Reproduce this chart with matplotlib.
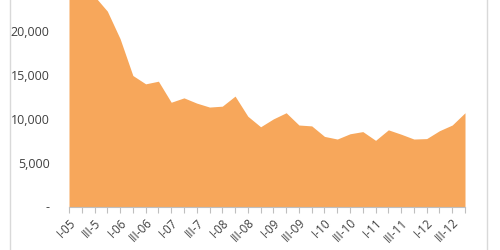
import numpy as np
import matplotlib
matplotlib.use("Agg")
import matplotlib.pyplot as plt
from matplotlib.lines import Line2D
from matplotlib.transforms import ScaledTranslation

# quarterly values, Q1 2005 .. Q4 2012
values = [24500, 25000, 24000, 22300, 19150, 14950, 14000, 14300,
          11900, 12400, 11800, 11350, 11450, 12600, 10300, 9100,
          10000, 10700, 9300, 9200, 8000, 7700, 8300, 8550,
          7550, 8750, 8250, 7700, 7750, 8650, 9300, 10700]
tick_labels = ["I-05", "III-5", "I-06", "III-06", "I-07", "III-7", "I-08", "III-08",
               "I-09", "III-09", "I-10", "III-10", "I-11", "III-11", "I-12", "III-12"]
y_ticks = [0, 5000, 10000, 15000, 20000]
y_tick_labels = ["-", "5,000", "10,000", "15,000", "20,000"]

plt.rcParams['font.family'] = ['Open Sans', 'DejaVu Sans']

fig = plt.figure(figsize=(5, 2.5), dpi=100)
ax = fig.add_axes([0.138, 0.174, 0.792, 0.826])

x = np.arange(len(values))
ax.fill_between(x, values, 0, color='#F7A75B', linewidth=0)

ax.set_xlim(0, len(values) - 1)
ax.set_ylim(0, 23570)

ax.set_xticks(x)
ax.set_xticklabels([tick_labels[i // 2] if i % 2 == 0 else "" for i in x],
                   rotation=45, ha='right', rotation_mode='anchor', fontsize=8.5, color='#404040')
shift = ScaledTranslation(4 / 100, 0, fig.dpi_scale_trans)
for lbl in ax.get_xticklabels():
    lbl.set_transform(lbl.get_transform() + shift)
ax.set_yticks(y_ticks)
ax.set_yticklabels(y_tick_labels, fontsize=9, color='#404040')
ax.tick_params(axis='x', length=4, color='#BFBFBF', pad=3)
ax.tick_params(axis='y', length=0, pad=14)

for s in ['top', 'right', 'left']:
    ax.spines[s].set_visible(False)
ax.spines['bottom'].set_color('#BFBFBF')

# chart area border lines
fig.add_artist(Line2D([0.02, 0.02], [0, 1], color='#D9D9D9', lw=1))
fig.add_artist(Line2D([0.974, 0.974], [0, 1], color='#D9D9D9', lw=1))

fig.savefig("out.png", dpi=100)
